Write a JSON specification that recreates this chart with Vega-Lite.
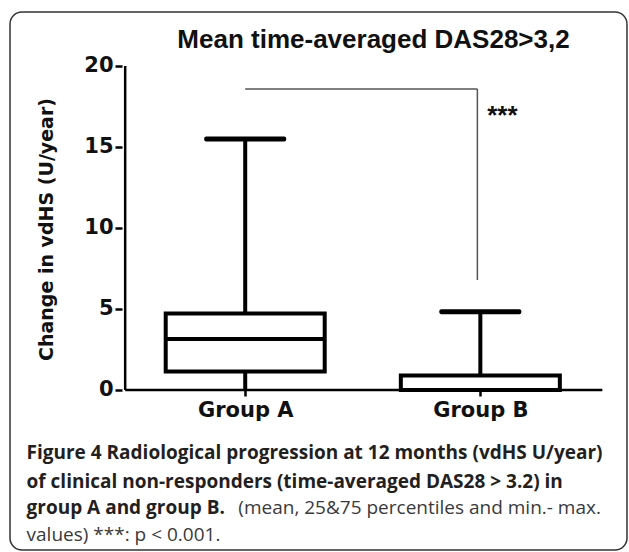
{
  "$schema": "https://vega.github.io/schema/vega-lite/v6.json",
  "width": 617,
  "height": 538,
  "autosize": {"type": "none"},
  "padding": {"left": 10, "top": 12, "right": 2, "bottom": 2},
  "background": "white",
  "config": {
    "view": {"stroke": "#333333", "strokeWidth": 1.5, "cornerRadius": 12, "fill": "white"},
    "font": "Liberation Sans"
  },
  "title": {
    "text": "Mean time-averaged DAS28>3,2",
    "font": "Liberation Sans",
    "fontSize": 26,
    "fontWeight": "bold",
    "color": "#111111",
    "anchor": "middle",
    "dx": 55,
    "offset": -41
  },
  "datasets": {
    "boxes": [
      {"group": 1, "label": "Group A", "min": 0, "q1": 1.14, "median": 3.15, "q3": 4.72, "max": 15.5},
      {"group": 2, "label": "Group B", "min": 0, "q1": 0, "median": 0, "q3": 0.9, "max": 4.83}
    ],
    "axislines": [
      {"x1": 0.4895, "x2": 2.5188, "y1": 0, "y2": 0},
      {"x1": 0.4895, "x2": 0.4895, "y1": 0, "y2": 20}
    ],
    "bracket": [
      {"x1": 1, "x2": 1.9874, "y1": 18.58, "y2": 18.58},
      {"x1": 1.9874, "x2": 1.9874, "y1": 6.79, "y2": 18.58}
    ],
    "stars": [{"x": 2.029, "y": 16.45, "text": "***"}],
    "caption": [
      {"x": 0.07, "y": -3.889, "text": "Figure 4 Radiological progression at 12 months (vdHS U/year)", "weight": "bold"},
      {"x": 0.07, "y": -5.679, "text": "of clinical non-responders (time-averaged DAS28 > 3.2) in", "weight": "bold"},
      {"x": 0.07, "y": -7.284, "text": "group A and group B.", "weight": "bold"},
      {"x": 0.9707, "y": -7.284, "text": "(mean, 25&75 percentiles and min.- max.", "weight": "normal"},
      {"x": 0.07, "y": -8.951, "text": "values) ***: p < 0.001.", "weight": "normal"}
    ]
  },
  "layer": [
    {
      "data": {"name": "boxes"},
      "mark": {"type": "rule", "color": "black", "strokeWidth": 4},
      "encoding": {
        "x": {
          "field": "group", "type": "quantitative",
          "scale": {"domain": [0.02092, 2.6025], "nice": false, "zero": false},
          "axis": {
            "values": [1, 2],
            "labelExpr": "datum.value == 1 ? 'Group A' : 'Group B'",
            "title": null,
            "offset": -160,
            "domain": false,
            "grid": false,
            "ticks": true,
            "tickSize": 6,
            "tickWidth": 2.5,
            "tickColor": "black",
            "labelFont": "DejaVu Sans",
            "labelFontSize": 21,
            "labelFontWeight": "bold",
            "labelColor": "#111111",
            "labelPadding": 3,
            "labelFlush": false,
            "labelOverlap": false
          }
        },
        "y": {
          "field": "q3", "type": "quantitative",
          "scale": {"domain": [-9.877, 23.333], "nice": false, "zero": false},
          "axis": {
            "values": [0, 5, 10, 15, 20],
            "offset": -112,
            "domain": false,
            "grid": false,
            "tickSize": 7,
            "tickWidth": 2.5,
            "tickColor": "black",
            "labelFont": "DejaVu Sans",
            "labelFontSize": 21,
            "labelFontWeight": "bold",
            "labelColor": "#111111",
            "labelPadding": 2,
            "labelFlush": false,
            "labelOverlap": false,
            "title": "Change in vdHS (U/year)",
            "titleFont": "DejaVu Sans",
            "titleFontSize": 19,
            "titleFontWeight": "bold",
            "titleColor": "#111111",
            "titleAngle": 270,
            "titleX": -76,
            "titleY": 217,
            "titleAlign": "center",
            "titleBaseline": "middle"
          }
        },
        "y2": {"field": "max"}
      }
    },
    {
      "data": {"name": "boxes"},
      "mark": {"type": "rule", "color": "black", "strokeWidth": 4},
      "encoding": {
        "x": {"field": "group", "type": "quantitative"},
        "y": {"field": "min", "type": "quantitative"},
        "y2": {"field": "q1"}
      }
    },
    {
      "data": {"name": "boxes"},
      "mark": {"type": "bar", "fill": "white", "stroke": "black", "strokeWidth": 4, "size": 159},
      "encoding": {
        "x": {"field": "group", "type": "quantitative"},
        "y": {"field": "q1", "type": "quantitative"},
        "y2": {"field": "q3"}
      }
    },
    {
      "data": {"name": "boxes"},
      "mark": {"type": "tick", "orient": "horizontal", "color": "black", "size": 159, "thickness": 4, "opacity": 1},
      "encoding": {
        "x": {"field": "group", "type": "quantitative"},
        "y": {"field": "median", "type": "quantitative"}
      }
    },
    {
      "data": {"name": "boxes"},
      "mark": {"type": "tick", "orient": "horizontal", "color": "black", "size": 82, "thickness": 5, "opacity": 1, "cornerRadius": 2},
      "encoding": {
        "x": {"field": "group", "type": "quantitative"},
        "y": {"field": "max", "type": "quantitative"}
      }
    },
    {
      "data": {"name": "boxes"},
      "mark": {"type": "tick", "orient": "horizontal", "color": "black", "size": 78, "thickness": 2, "opacity": 1},
      "encoding": {
        "x": {"field": "group", "type": "quantitative"},
        "y": {"field": "min", "type": "quantitative"}
      }
    },
    {
      "data": {"name": "axislines"},
      "mark": {"type": "rule", "color": "black", "strokeWidth": 2.5},
      "encoding": {
        "x": {"field": "x1", "type": "quantitative"},
        "x2": {"field": "x2"},
        "y": {"field": "y1", "type": "quantitative"},
        "y2": {"field": "y2"}
      }
    },
    {
      "data": {"name": "bracket"},
      "mark": {"type": "rule", "color": "#555555", "strokeWidth": 1.5},
      "encoding": {
        "x": {"field": "x1", "type": "quantitative"},
        "x2": {"field": "x2"},
        "y": {"field": "y1", "type": "quantitative"},
        "y2": {"field": "y2"}
      }
    },
    {
      "data": {"name": "stars"},
      "mark": {"type": "text", "align": "left", "baseline": "alphabetic", "font": "Liberation Sans", "fontSize": 26, "fontWeight": "bold", "color": "#111111"},
      "encoding": {
        "x": {"field": "x", "type": "quantitative"},
        "y": {"field": "y", "type": "quantitative"},
        "text": {"field": "text"}
      }
    },
    {
      "data": {"name": "caption"},
      "transform": [{"filter": "datum.weight == 'bold'"}],
      "mark": {"type": "text", "align": "left", "baseline": "middle", "font": "Open Sans", "fontSize": 19, "fontWeight": "bold", "color": "#231f20"},
      "encoding": {
        "x": {"field": "x", "type": "quantitative"},
        "y": {"field": "y", "type": "quantitative"},
        "text": {"field": "text"}
      }
    },
    {
      "data": {"name": "caption"},
      "transform": [{"filter": "datum.weight == 'normal'"}],
      "mark": {"type": "text", "align": "left", "baseline": "middle", "font": "Open Sans", "fontSize": 19, "fontWeight": "normal", "color": "#3a3a3a"},
      "encoding": {
        "x": {"field": "x", "type": "quantitative"},
        "y": {"field": "y", "type": "quantitative"},
        "text": {"field": "text"}
      }
    }
  ]
}
